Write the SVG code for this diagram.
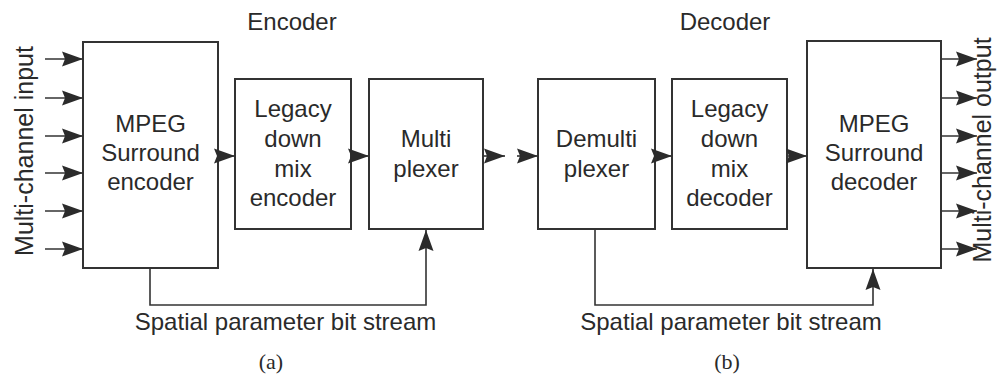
<svg xmlns="http://www.w3.org/2000/svg" width="997" height="376" viewBox="0 0 997 376">
  <defs>
    <style>
      .box { fill: #ffffff; stroke: #333333; stroke-width: 2; }
      .lbl { font-family: "Liberation Sans", Arial, sans-serif; font-size: 24px; fill: #2a2a2a; text-anchor: middle; }
      .side { font-size: 25px; }
      .cap { font-family: "Liberation Serif", "Times New Roman", serif; font-size: 22px; fill: #2a2a2a; text-anchor: middle; }
      .wire { fill: none; stroke: #333333; stroke-width: 1.6; }
      .arr { marker-end: url(#head); }
    </style>
    <marker id="head" markerUnits="userSpaceOnUse" markerWidth="24" markerHeight="18" refX="21" refY="8" orient="auto">
      <path d="M0,0.5 L21,8 L0,15.5 L3,8 Z" fill="#2b2b2b"/>
    </marker>
  </defs>

  <rect width="997" height="376" fill="#ffffff"/>

  <!-- section titles -->
  <text class="lbl" x="292" y="30">Encoder</text>
  <text class="lbl" x="725" y="30">Decoder</text>

  <!-- side labels -->
  <text class="lbl side" transform="translate(33,151) rotate(-90)">Multi-channel input</text>
  <text class="lbl side" transform="translate(991,150) rotate(-90)">Multi-channel output</text>

  <!-- encoder side -->
  <g id="mps-encoder">
    <rect class="box" x="83" y="42" width="135" height="226"/>
    <text class="lbl" x="150.5" y="132">MPEG</text>
    <text class="lbl" x="150.5" y="161">Surround</text>
    <text class="lbl" x="150.5" y="190">encoder</text>
  </g>
  <g id="legacy-encoder">
    <rect class="box" x="235" y="79" width="116" height="150"/>
    <text class="lbl" x="293" y="117">Legacy</text>
    <text class="lbl" x="293" y="147">down</text>
    <text class="lbl" x="293" y="177">mix</text>
    <text class="lbl" x="293" y="206">encoder</text>
  </g>
  <g id="multiplexer">
    <rect class="box" x="369" y="79" width="114" height="150"/>
    <text class="lbl" x="426" y="147">Multi</text>
    <text class="lbl" x="426" y="177">plexer</text>
  </g>

  <!-- decoder side -->
  <g id="demultiplexer">
    <rect class="box" x="538" y="79" width="117" height="150"/>
    <text class="lbl" x="596.5" y="147">Demulti</text>
    <text class="lbl" x="596.5" y="177">plexer</text>
  </g>
  <g id="legacy-decoder">
    <rect class="box" x="672" y="79" width="115" height="150"/>
    <text class="lbl" x="729.5" y="117">Legacy</text>
    <text class="lbl" x="729.5" y="147">down</text>
    <text class="lbl" x="729.5" y="177">mix</text>
    <text class="lbl" x="729.5" y="206">decoder</text>
  </g>
  <g id="mps-decoder">
    <rect class="box" x="807" y="41" width="134" height="227"/>
    <text class="lbl" x="874" y="132">MPEG</text>
    <text class="lbl" x="874" y="161">Surround</text>
    <text class="lbl" x="874" y="190">decoder</text>
  </g>

  <g id="connectors">
    <!-- input channels -->
    <path class="wire arr" d="M45,59 H83"/>
    <path class="wire arr" d="M45,98 H83"/>
    <path class="wire arr" d="M45,136 H83"/>
    <path class="wire arr" d="M45,173 H83"/>
    <path class="wire arr" d="M45,211 H83"/>
    <path class="wire arr" d="M45,249 H83"/>
    <!-- signal chain -->
    <path class="wire arr" d="M218,156 H235"/>
    <path class="wire arr" d="M351,156 H369"/>
    <path class="wire arr" d="M483,156 H505"/>
    <path class="wire arr" d="M517,156 H538"/>
    <path class="wire arr" d="M655,156 H672"/>
    <path class="wire arr" d="M787,156 H807"/>
    <!-- spatial parameter side paths -->
    <path class="wire arr" d="M150,268 V305 H426 V230"/>
    <path class="wire arr" d="M595,229 V305 H873 V269"/>
    <!-- output channels -->
    <path class="wire arr" d="M941,59 H977"/>
    <path class="wire arr" d="M941,98 H977"/>
    <path class="wire arr" d="M941,136 H977"/>
    <path class="wire arr" d="M941,173 H977"/>
    <path class="wire arr" d="M941,211 H977"/>
    <path class="wire arr" d="M941,249 H977"/>
  </g>

  <!-- captions -->
  <text class="lbl" x="285.5" y="330">Spatial parameter bit stream</text>
  <text class="lbl" x="731" y="330">Spatial parameter bit stream</text>
  <text class="cap" x="271" y="369">(a)</text>
  <text class="cap" x="727" y="369">(b)</text>
</svg>
